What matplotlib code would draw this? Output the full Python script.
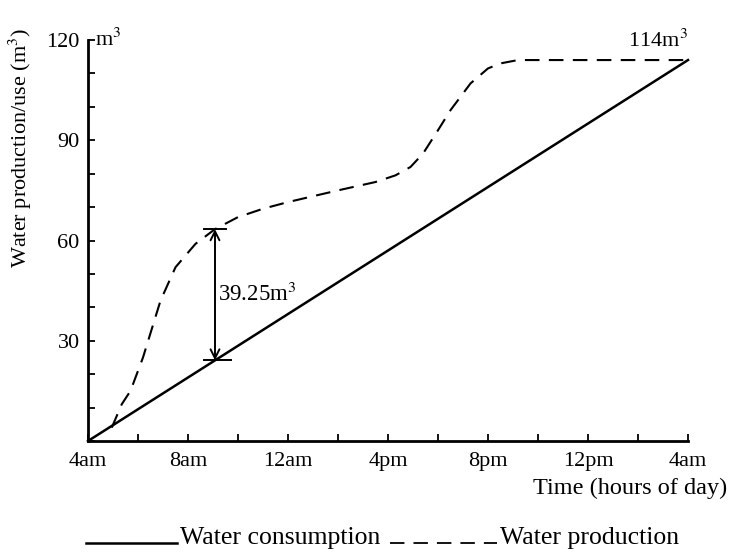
import numpy as np
import matplotlib
matplotlib.use("Agg")
import matplotlib.pyplot as plt
from matplotlib.lines import Line2D
from matplotlib.ticker import MultipleLocator

plt.rcParams["font.family"] = ["Liberation Serif", "DejaVu Serif"]
plt.rcParams["mathtext.fontset"] = "stix"

# ── data (hours after 4am, cubic metres) ──
cons_hours = [0, 24]
cons_vals = [0, 114]

prod_hours = [0.95, 1.35, 1.7, 2.2, 2.9, 3.5, 4.3, 5.08, 6.0, 7.0, 8.0,
              10.0, 11.5, 12.3, 12.9, 13.4, 14.0, 14.5, 15.3, 16.0, 16.5,
              17.2, 24.0]
prod_vals = [4, 11, 15, 25, 42, 52, 59, 63.4, 67, 69.5, 71.5,
             75, 77.5, 79.5, 82, 86, 93, 99, 107, 111.5, 113,
             114, 114]

x_ticks = [0, 4, 8, 12, 16, 20, 24]
x_labels = ["4am", "8am", "12am", "4pm", "8pm", "12pm", "4am"]
y_ticks = [30, 60, 90, 120]

gap_hour = 5.08
gap_value = 39.25
total_value = 114

W, H = 732, 552
fig = plt.figure(figsize=(W / 100, H / 100), dpi=100)
ax = fig.add_axes([88 / W, 1 - 441 / H, 600 / W, 401 / H])

ax.plot(cons_hours, cons_vals, color="black", lw=1.8, clip_on=False)
ax.plot(prod_hours, prod_vals, color="black", lw=1.5, dashes=(7, 4.5),
        clip_on=False)

# difference arrow
bot = np.interp(gap_hour, cons_hours, cons_vals)
top = bot + gap_value
ax.annotate("", xy=(gap_hour, top), xytext=(gap_hour, bot),
            arrowprops=dict(arrowstyle="<->", lw=1.4, color="black",
                            shrinkA=0, shrinkB=0, mutation_scale=16))
ax.plot([gap_hour - 0.45, gap_hour + 0.45], [top, top], color="black", lw=1.4)
ax.plot([gap_hour - 0.45, gap_hour + 0.65], [bot, bot], color="black", lw=1.4)
ax.text(gap_hour + 0.12, (top + bot) / 2, f"{gap_value:.2f}m$^3$",
        fontsize=16.5, ha="left", va="center")
ax.text(prod_hours[-1], total_value + 2.5, f"{total_value}m$^3$",
        fontsize=16, ha="right", va="bottom")

ax.set_xlim(0, 24)
ax.set_ylim(0, 120)
for s in ["top", "right"]:
    ax.spines[s].set_visible(False)
for s in ["left", "bottom"]:
    ax.spines[s].set_linewidth(2.0)

ax.set_xticks(x_ticks)
ax.set_xticklabels(x_labels)
ax.xaxis.set_minor_locator(MultipleLocator(2))
ax.set_yticks(y_ticks)
ax.yaxis.set_minor_locator(MultipleLocator(10))
ax.tick_params(axis="both", which="both", direction="in", width=1.3,
               length=5, labelsize=16)
ax.tick_params(axis="x", which="major", pad=8)
ax.tick_params(axis="y", which="major", pad=6)

ax.text(0.012, 1.0, "m$^3$", transform=ax.transAxes, fontsize=16,
        ha="left", va="center")

ax.set_ylabel("Water production/use (m$^3$)", fontsize=16)
ax.yaxis.set_label_coords(-0.09, 0.73)
ax.text(1.065, -0.117, "Time (hours of day)", transform=ax.transAxes,
        fontsize=17.5, ha="right", va="center")

# legend drawn as in the print: sample stroke then text
fig.add_artist(Line2D([86 / W, 177 / W], [1 - 543 / H] * 2, color="black",
                      lw=1.8))
fig.text(180 / W, 1 - 544 / H, "Water consumption", fontsize=18.5,
         ha="left", va="baseline")
fig.add_artist(Line2D([390 / W, 497 / W], [1 - 543 / H] * 2, color="black",
                      lw=1.3, dashes=(8, 5)))
fig.text(500 / W, 1 - 544 / H, "Water production", fontsize=18.5,
         ha="left", va="baseline")

fig.savefig("out.png", dpi=100)
